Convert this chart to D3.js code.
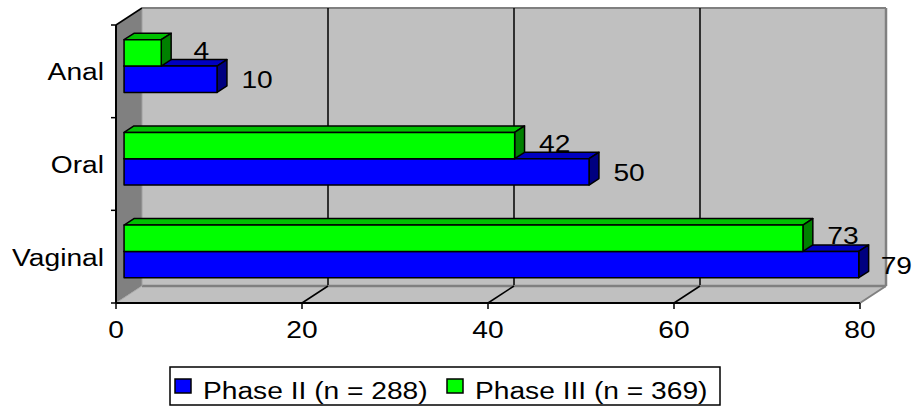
<!DOCTYPE html>
<html>
<head>
<meta charset="utf-8">
<script src="https://cdn.jsdelivr.net/npm/d3@7"></script>
<style>
  html, body { margin: 0; padding: 0; background: #fff; }
  svg { display: block; }
  text { font-family: "Liberation Sans", Arial, sans-serif; fill: #000; }
</style>
</head>
<body>
<svg id="chart" width="913" height="407"></svg>
<script>
// Categories, listed top to bottom
const categories = ["Anal", "Oral", "Vaginal"];
// Series values (percent)
const phase2Values = [10, 50, 79];
const phase3Values = [4, 42, 73];
const seriesNames = ["Phase II (n = 288)", "Phase III (n = 369)"];
const seriesColors = [
  { front: "#0000FF", top: "#0000C0", side: "#000080" },
  { front: "#00FF00", top: "#00C000", side: "#008000" }
];
const xTickValues = [0, 20, 40, 60, 80];

const W = 913;
const svg = d3.select("#chart");
const FONT = 24.5, SX = 1.15;

// Oblique 3-D frame: front plane plus a depth vector
const DX = 26, DY = -17;
const x = d3.scaleLinear().domain([0, 80]).range([116, 860]);
const y = d3.scaleBand().domain(categories).range([25, 303]).padding(0);
// Series inside each category: Phase III above Phase II
const ySeries = d3.scaleBand().domain([1, 0]).range([0, y.bandwidth()])
  .paddingInner(0).paddingOuter(0.76);

const yTop = 25, yBot = 303;
const P = (px, py, t) => [px + t * DX, py + t * DY];

function text(g, str, tx, ty, anchor) {
  return g.append("text")
    .attr("transform", `translate(${tx},${ty}) scale(${SX},1)`)
    .attr("text-anchor", anchor)
    .style("font-size", FONT + "px")
    .text(str);
}

const line = (g, a, b, color, w) => g.append("line")
  .attr("x1", a[0]).attr("y1", a[1]).attr("x2", b[0]).attr("y2", b[1])
  .attr("stroke", color).attr("stroke-width", w);

// ---- walls and floor ----
const walls = svg.append("g");
const x0 = x(0), x80 = x(80);
const bl = P(x0, yBot, 1), br = P(x80, yBot, 1), tl = P(x0, yTop, 1), tr = P(x80, yTop, 1);

walls.append("rect").attr("x", tl[0]).attr("y", tl[1])
  .attr("width", tr[0] - tl[0]).attr("height", bl[1] - tl[1]).attr("fill", "#C0C0C0");
walls.append("polygon")
  .attr("points", [[x0, yTop], tl, bl, [x0, yBot]].map(p => p.join(",")).join(" "))
  .attr("fill", "#808080");
walls.append("polygon")
  .attr("points", [[x0, yBot], bl, br, [x80, yBot]].map(p => p.join(",")).join(" "))
  .attr("fill", "#C0C0C0");

// wall edges
line(walls, tl, tr, "#808080", 2);
line(walls, tr, br, "#808080", 2.5);
line(walls, bl, br, "#808080", 2.5);
line(walls, br, [x80, yBot], "#808080", 2);
line(walls, tl, bl, "#A0A0A0", 1);
line(walls, [x0, yBot], bl, "#A8A8A8", 1);
line(walls, [x0, yTop], tl, "#000", 1.5);

// gridlines on back wall and floor
xTickValues.filter(v => v > 0 && v < 80).forEach(v => {
  const b = P(x(v), yBot, 1), t = P(x(v), yTop, 1);
  line(walls, t, [b[0], b[1] - 1], "#000", 1.5);
  line(walls, [x(v), yBot], b, "#000", 1.5);
});

// ---- axes ----
const axes = svg.append("g");
line(axes, [x0, yBot], [x80, yBot], "#000", 2);
line(axes, [x0, yTop], [x0, yBot], "#000", 2);
xTickValues.forEach(v => {
  line(axes, [x(v), yBot], [x(v), yBot + 6], "#000", 1.5);
  text(axes, String(v), x(v), 338, "middle");
});
const yTickPos = categories.map(c => y(c)).concat([yBot]);
yTickPos.forEach(p => line(axes, [x0 - 5, p], [x0, p], "#000", 1.5));
categories.forEach(c => {
  text(axes, c, 104, y(c) + y.bandwidth() / 2 + 9, "end");
});

// ---- bars ----
const TF = 0.31, TB = 0.69;          // bar depth, as fractions of the frame depth
const bdx = (TB - TF) * DX, bdy = (TB - TF) * DY;
const bars = svg.append("g");
const labels = svg.append("g");
const seriesValues = [phase2Values, phase3Values];

categories.forEach((c, ci) => {
  [0, 1].forEach(si => {
    const v = seriesValues[si][ci];
    const col = seriesColors[si];
    const [fx, fy] = P(x(0), y(c) + ySeries(si), TF);
    const w = x(v) - x(0), h = ySeries.bandwidth();
    const pts = a => a.map(p => p.join(",")).join(" ");
    const g = bars.append("g").attr("stroke", "#000").attr("stroke-width", 1.5)
      .attr("stroke-linejoin", "round");
    g.append("polygon").attr("fill", col.top)
      .attr("points", pts([[fx, fy], [fx + bdx, fy + bdy], [fx + w + bdx, fy + bdy], [fx + w, fy]]));
    g.append("polygon").attr("fill", col.side)
      .attr("points", pts([[fx + w, fy], [fx + w + bdx, fy + bdy], [fx + w + bdx, fy + h + bdy], [fx + w, fy + h]]));
    g.append("rect").attr("fill", col.front)
      .attr("x", fx).attr("y", fy).attr("width", w).attr("height", h);
    // value label, kept inside the drawing area
    const ly = fy + h / 2 + 9 + (si === 1 ? -3 : 0);
    const t = text(labels, String(v), 0, ly, "middle");
    const half = t.node().getBBox().width * SX / 2;
    const lx = Math.min(fx + w + 40, W - half - 1);
    t.attr("transform", `translate(${lx},${ly}) scale(${SX},1)`);
  });
});

// ---- legend ----
const leg = svg.append("g");
leg.append("rect").attr("x", 170).attr("y", 367).attr("width", 550).attr("height", 38)
  .attr("fill", "#fff").attr("stroke", "#000").attr("stroke-width", 1.5);
const legItems = [{ sx: 175, tx: 203 }, { sx: 447, tx: 475 }];
seriesNames.forEach((n, i) => {
  leg.append("rect").attr("x", legItems[i].sx).attr("y", 379).attr("width", 16).attr("height", 14)
    .attr("fill", seriesColors[i].front).attr("stroke", "#000").attr("stroke-width", 1.5);
  text(leg, n, legItems[i].tx, 399, "start");
});
</script>
</body>
</html>
